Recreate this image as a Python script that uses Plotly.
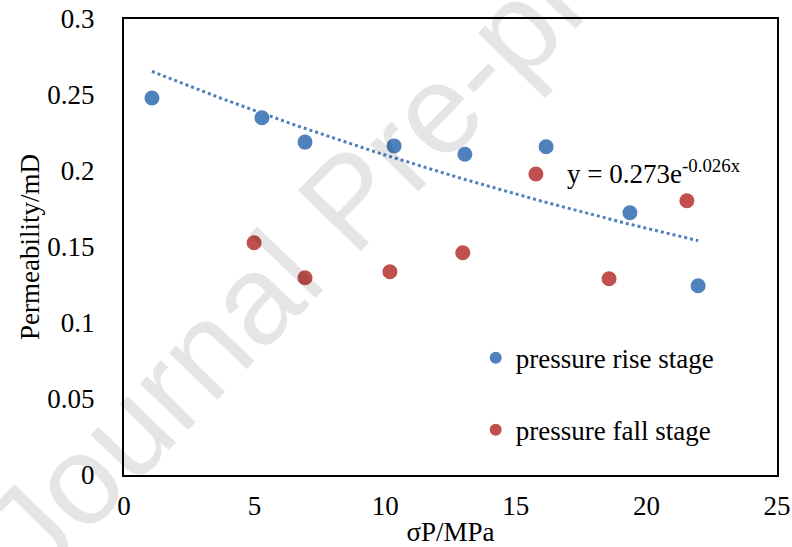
import numpy as np
import plotly.graph_objects as go

# Effective stress (MPa) and permeability (mD) for the two loading stages
rise_sp = [1.07, 5.28, 6.93, 10.34, 13.05, 16.16, 19.37, 21.98]
rise_k = [0.248, 0.235, 0.219, 0.2165, 0.211, 0.216, 0.1725, 0.1245]
fall_sp = [4.98, 6.93, 10.18, 12.97, 15.77, 18.57, 21.55]
fall_k = [0.1528, 0.1298, 0.1337, 0.1462, 0.198, 0.1291, 0.1804]

# Exponential trend of the rise stage: k = a * exp(b * sP)
fit_a = 0.273
fit_b = -0.026

x_ticks = [0, 5, 10, 15, 20, 25]
y_ticks = [0, 0.05, 0.1, 0.15, 0.2, 0.25, 0.3]

BLUE = "#4f81bd"
RED = "#c0504d"
SERIF = "Liberation Serif, Times New Roman, serif"

trend_x = np.linspace(min(rise_sp), max(rise_sp), 60)
trend_y = fit_a * np.exp(fit_b * trend_x)

fig = go.Figure()
fig.add_trace(go.Scatter(
    x=trend_x, y=trend_y, mode="lines",
    line=dict(color=BLUE, width=3, dash="dot"),
    showlegend=False, hoverinfo="skip",
))
fig.add_trace(go.Scatter(
    x=rise_sp, y=rise_k, mode="markers", name="pressure rise stage",
    legendgroup="rise",
    marker=dict(color=BLUE, size=15),
))
fig.add_trace(go.Scatter(
    x=fall_sp, y=fall_k, mode="markers", name="pressure fall stage",
    legendgroup="fall",
    marker=dict(color=RED, size=15),
))

fig.add_annotation(
    x=16.88, y=0.1995, xref="x", yref="y", xanchor="left", yanchor="middle",
    text=f"y = {fit_a}e<sup>{fit_b}x</sup>", showarrow=False,
    font=dict(family=SERIF, size=27, color="black"),
)

# Watermark drawn over the chart (position in plot-area fractions)
fig.add_annotation(
    x=0.3446, y=0.6035, xref="paper", yref="paper",
    xanchor="center", yanchor="middle",
    text="Journal Pre-proof", showarrow=False, textangle=-46,
    font=dict(family="Liberation Sans, Arial, sans-serif", size=127,
              color="rgba(0,0,0,0.1)"),
)

fig.update_layout(
    width=792, height=547,
    margin=dict(l=124, r=15, t=19, b=72, autoexpand=False),
    paper_bgcolor="white", plot_bgcolor="white",
    font=dict(family=SERIF, size=27, color="black"),
    legend=dict(
        x=0.5386, y=0.31, xanchor="left", yanchor="top",
        bgcolor="rgba(0,0,0,0)", traceorder="grouped", tracegroupgap=34,
        font=dict(family=SERIF, size=27, color="black"),
        itemsizing="constant",
    ),
    xaxis=dict(
        range=[0, 25], tickvals=x_ticks, ticks="", showgrid=False,
        zeroline=False, showline=True, linecolor="black", linewidth=2,
        mirror=True, ticklabelstandoff=6, automargin=False,
        title=dict(text="σP/MPa", standoff=9,
                   font=dict(family=SERIF, size=27)),
        tickfont=dict(family=SERIF, size=27),
    ),
    yaxis=dict(
        range=[0, 0.3], tickvals=y_ticks, ticks="", showgrid=False,
        zeroline=False, showline=True, linecolor="black", linewidth=2,
        mirror=True, ticklabelstandoff=22, automargin=False,
        title=dict(text="Permeability/mD", standoff=0,
                   font=dict(family=SERIF, size=27)),
        tickfont=dict(family=SERIF, size=27),
    ),
)

fig.write_html("out.html")
